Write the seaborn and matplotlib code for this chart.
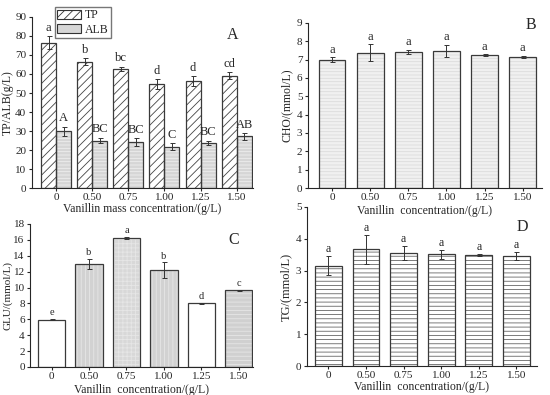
import numpy as np
import pandas as pd
import matplotlib
matplotlib.use("Agg")
import matplotlib.pyplot as plt
import seaborn as sns
from matplotlib.patches import Rectangle

# data
conc = ["0", "0.50", "0.75", "1.00", "1.25", "1.50"]

tp = [76.5, 66.5, 62.8, 54.8, 56.2, 59.2]
tp_err = [3.5, 1.8, 1.0, 2.5, 2.5, 1.8]
tp_sig = ["a", "b", "bc", "d", "d", "cd"]
alb = [29.8, 25.0, 24.3, 21.8, 23.8, 27.2]
alb_err = [2.5, 1.5, 2.0, 1.8, 1.2, 1.8]
alb_sig = ["A", "BC", "BC", "C", "BC", "AB"]

cho = [7.0, 7.38, 7.42, 7.47, 7.25, 7.15]
cho_err = [0.12, 0.45, 0.12, 0.33, 0.03, 0.07]
cho_sig = ["a"] * 6

glu = [5.95, 12.95, 16.25, 12.2, 8.0, 9.65]
glu_err = [0.05, 0.6, 0.1, 0.95, 0.1, 0.1]
glu_sig = ["e", "b", "a", "b", "d", "c"]

tg = [3.15, 3.67, 3.57, 3.51, 3.48, 3.47]
tg_err = [0.3, 0.45, 0.22, 0.15, 0.03, 0.13]
tg_sig = ["a"] * 6

sns.set_style("ticks")
plt.rcParams["font.family"] = ["Liberation Serif", "DejaVu Serif"]
plt.rcParams["hatch.linewidth"] = 0.6
plt.rcParams["xtick.labelsize"] = 8
plt.rcParams["ytick.labelsize"] = 8
plt.rcParams["axes.linewidth"] = 0.8
plt.rcParams["xtick.major.size"] = 2
plt.rcParams["ytick.major.size"] = 2.5

fig = plt.figure(figsize=(5.5, 3.95), dpi=100)
axA = fig.add_axes([0.058, 0.524, 0.402, 0.433])
axB = fig.add_axes([0.56, 0.524, 0.425, 0.418])
axC = fig.add_axes([0.055, 0.071, 0.405, 0.362])
axD = fig.add_axes([0.558, 0.073, 0.418, 0.403])


def style_bars(ax, patches, faces, hatches, hcolors):
    for p, fc, h, hc in zip(patches, faces, hatches, hcolors):
        p.set_facecolor(fc)
        p.set_hatch(h)
        p.set_edgecolor(hc)
        p.set_linewidth(0)
        ax.add_patch(Rectangle(p.get_xy(), p.get_width(), p.get_height(),
                               fill=False, ec="#3a3a3a", lw=0.9, zorder=3))


def add_err(ax, patches, vals, errs, sigs, off, fs=8):
    for p, v, e, s in zip(patches, vals, errs, sigs):
        x = p.get_x() + p.get_width() / 2
        ax.errorbar(x, v, yerr=e, fmt="none", ecolor="#333333",
                    elinewidth=0.7, capsize=1.8, capthick=0.7, zorder=4)
        ax.text(x, v + e + off, s, ha="center", va="bottom", fontsize=fs)


# ---- panel A
dfA = pd.DataFrame({
    "conc": conc * 2,
    "val": tp + alb,
    "kind": ["TP"] * 6 + ["ALB"] * 6,
})
sns.barplot(data=dfA, x="conc", y="val", hue="kind", order=conc,
            hue_order=["TP", "ALB"], errorbar=None, width=0.83, ax=axA)
bars = sorted(axA.patches[:12], key=lambda p: p.get_x())
tp_bars = bars[0::2]
alb_bars = bars[1::2]
style_bars(axA, tp_bars, ["white"] * 6, ["////"] * 6, ["#444444"] * 6)
style_bars(axA, alb_bars, ["#d6d6d6"] * 6, ["-----"] * 6, ["#eeeeee"] * 6)
add_err(axA, tp_bars, tp, tp_err, tp_sig, 1.2, fs=9)
add_err(axA, alb_bars, alb, alb_err, alb_sig, 1.2, fs=9)
axA.set_ylim(0, 90)
axA.set_yticks(range(0, 91, 10))
axA.set_xlim(-0.67, 5.45)
axA.set_ylabel("TP/ALB(g/L)", fontsize=8.5, labelpad=1)
axA.set_xlabel("Vanillin mass concentration/(g/L)", fontsize=8.5, labelpad=1)
handles = [Rectangle((0, 0), 1, 1, fc="white", ec="#333333", hatch="////", lw=0.8),
           Rectangle((0, 0), 1, 1, fc="#d6d6d6", ec="#333333", lw=0.8)]
axA.legend(handles, ["TP", "ALB"], loc="upper left",
           bbox_to_anchor=(0.104, 1.058), fontsize=8.5, frameon=True,
           fancybox=False, edgecolor="#555555", handlelength=2.0,
           handleheight=0.85, borderpad=0.2, labelspacing=0.2,
           handletextpad=0.3, borderaxespad=0)
axA.text(0.88, 0.87, "A", transform=axA.transAxes, fontsize=11.5)

# ---- panel B
dfB = pd.DataFrame({"conc": conc, "val": cho})
sns.barplot(data=dfB, x="conc", y="val", order=conc, errorbar=None,
            width=0.7, ax=axB)
bB = sorted(axB.patches[:6], key=lambda p: p.get_x())
style_bars(axB, bB, ["#f0f0f0"] * 6, ["-----"] * 6, ["#dcdcdc"] * 6)
add_err(axB, bB, cho, cho_err, cho_sig, 0.1, fs=9)
axB.set_ylim(0, 9)
axB.set_yticks(range(0, 10))
axB.set_xlim(-0.63, 5.5)
axB.set_ylabel("CHO/(mmol/L)", fontsize=8.5, labelpad=3)
axB.set_xlabel("Vanillin  concentration/(g/L)", fontsize=8.5, labelpad=2)
axB.text(0.93, 0.985, "B", transform=axB.transAxes, fontsize=11.5,
         va="center")

# ---- panel C
dfC = pd.DataFrame({"conc": conc, "val": glu})
sns.barplot(data=dfC, x="conc", y="val", order=conc, errorbar=None,
            width=0.73, ax=axC)
bC = sorted(axC.patches[:6], key=lambda p: p.get_x())
faceC = ["white", "#d2d2d2", "#d8d8d8", "#d2d2d2", "white", "#d0d0d0"]
hatchC = ["", "||||", "++++", "||||", "", "----"]
style_bars(axC, bC, faceC, hatchC, ["#e6e6e6"] * 6)
add_err(axC, bC, glu, glu_err, glu_sig, 0.25, fs=7.5)
axC.set_ylim(0, 18)
axC.set_yticks(range(0, 19, 2))
axC.set_xlim(-0.57, 5.38)
axC.set_ylabel("GLU/(mmol/L)", fontsize=8, labelpad=1)
axC.set_xlabel("Vanillin  concentration/(g/L)", fontsize=8.5, labelpad=2)
axC.text(0.89, 0.86, "C", transform=axC.transAxes, fontsize=11.5)

# ---- panel D
dfD = pd.DataFrame({"conc": conc, "val": tg})
sns.barplot(data=dfD, x="conc", y="val", order=conc, errorbar=None,
            width=0.71, ax=axD)
bD = sorted(axD.patches[:6], key=lambda p: p.get_x())
style_bars(axD, bD, ["white"] * 6, ["----"] * 6, ["#666666"] * 6)
add_err(axD, bD, tg, tg_err, tg_sig, 0.03, fs=8.5)
axD.set_ylim(0, 5)
axD.set_yticks(range(0, 6))
axD.set_xlim(-0.57, 5.54)
axD.set_ylabel("TG/(mmol/L)", fontsize=9, labelpad=3)
axD.set_xlabel("Vanillin  concentration/(g/L)", fontsize=8.5, labelpad=1)
axD.text(0.91, 0.85, "D", transform=axD.transAxes, fontsize=11.5)

for ax in [axA, axB, axC, axD]:
    sns.despine(ax=ax)
    ax.set_facecolor("none")
    ax.tick_params(axis="both", pad=1.5)

fig.savefig("out.png", dpi=100)
